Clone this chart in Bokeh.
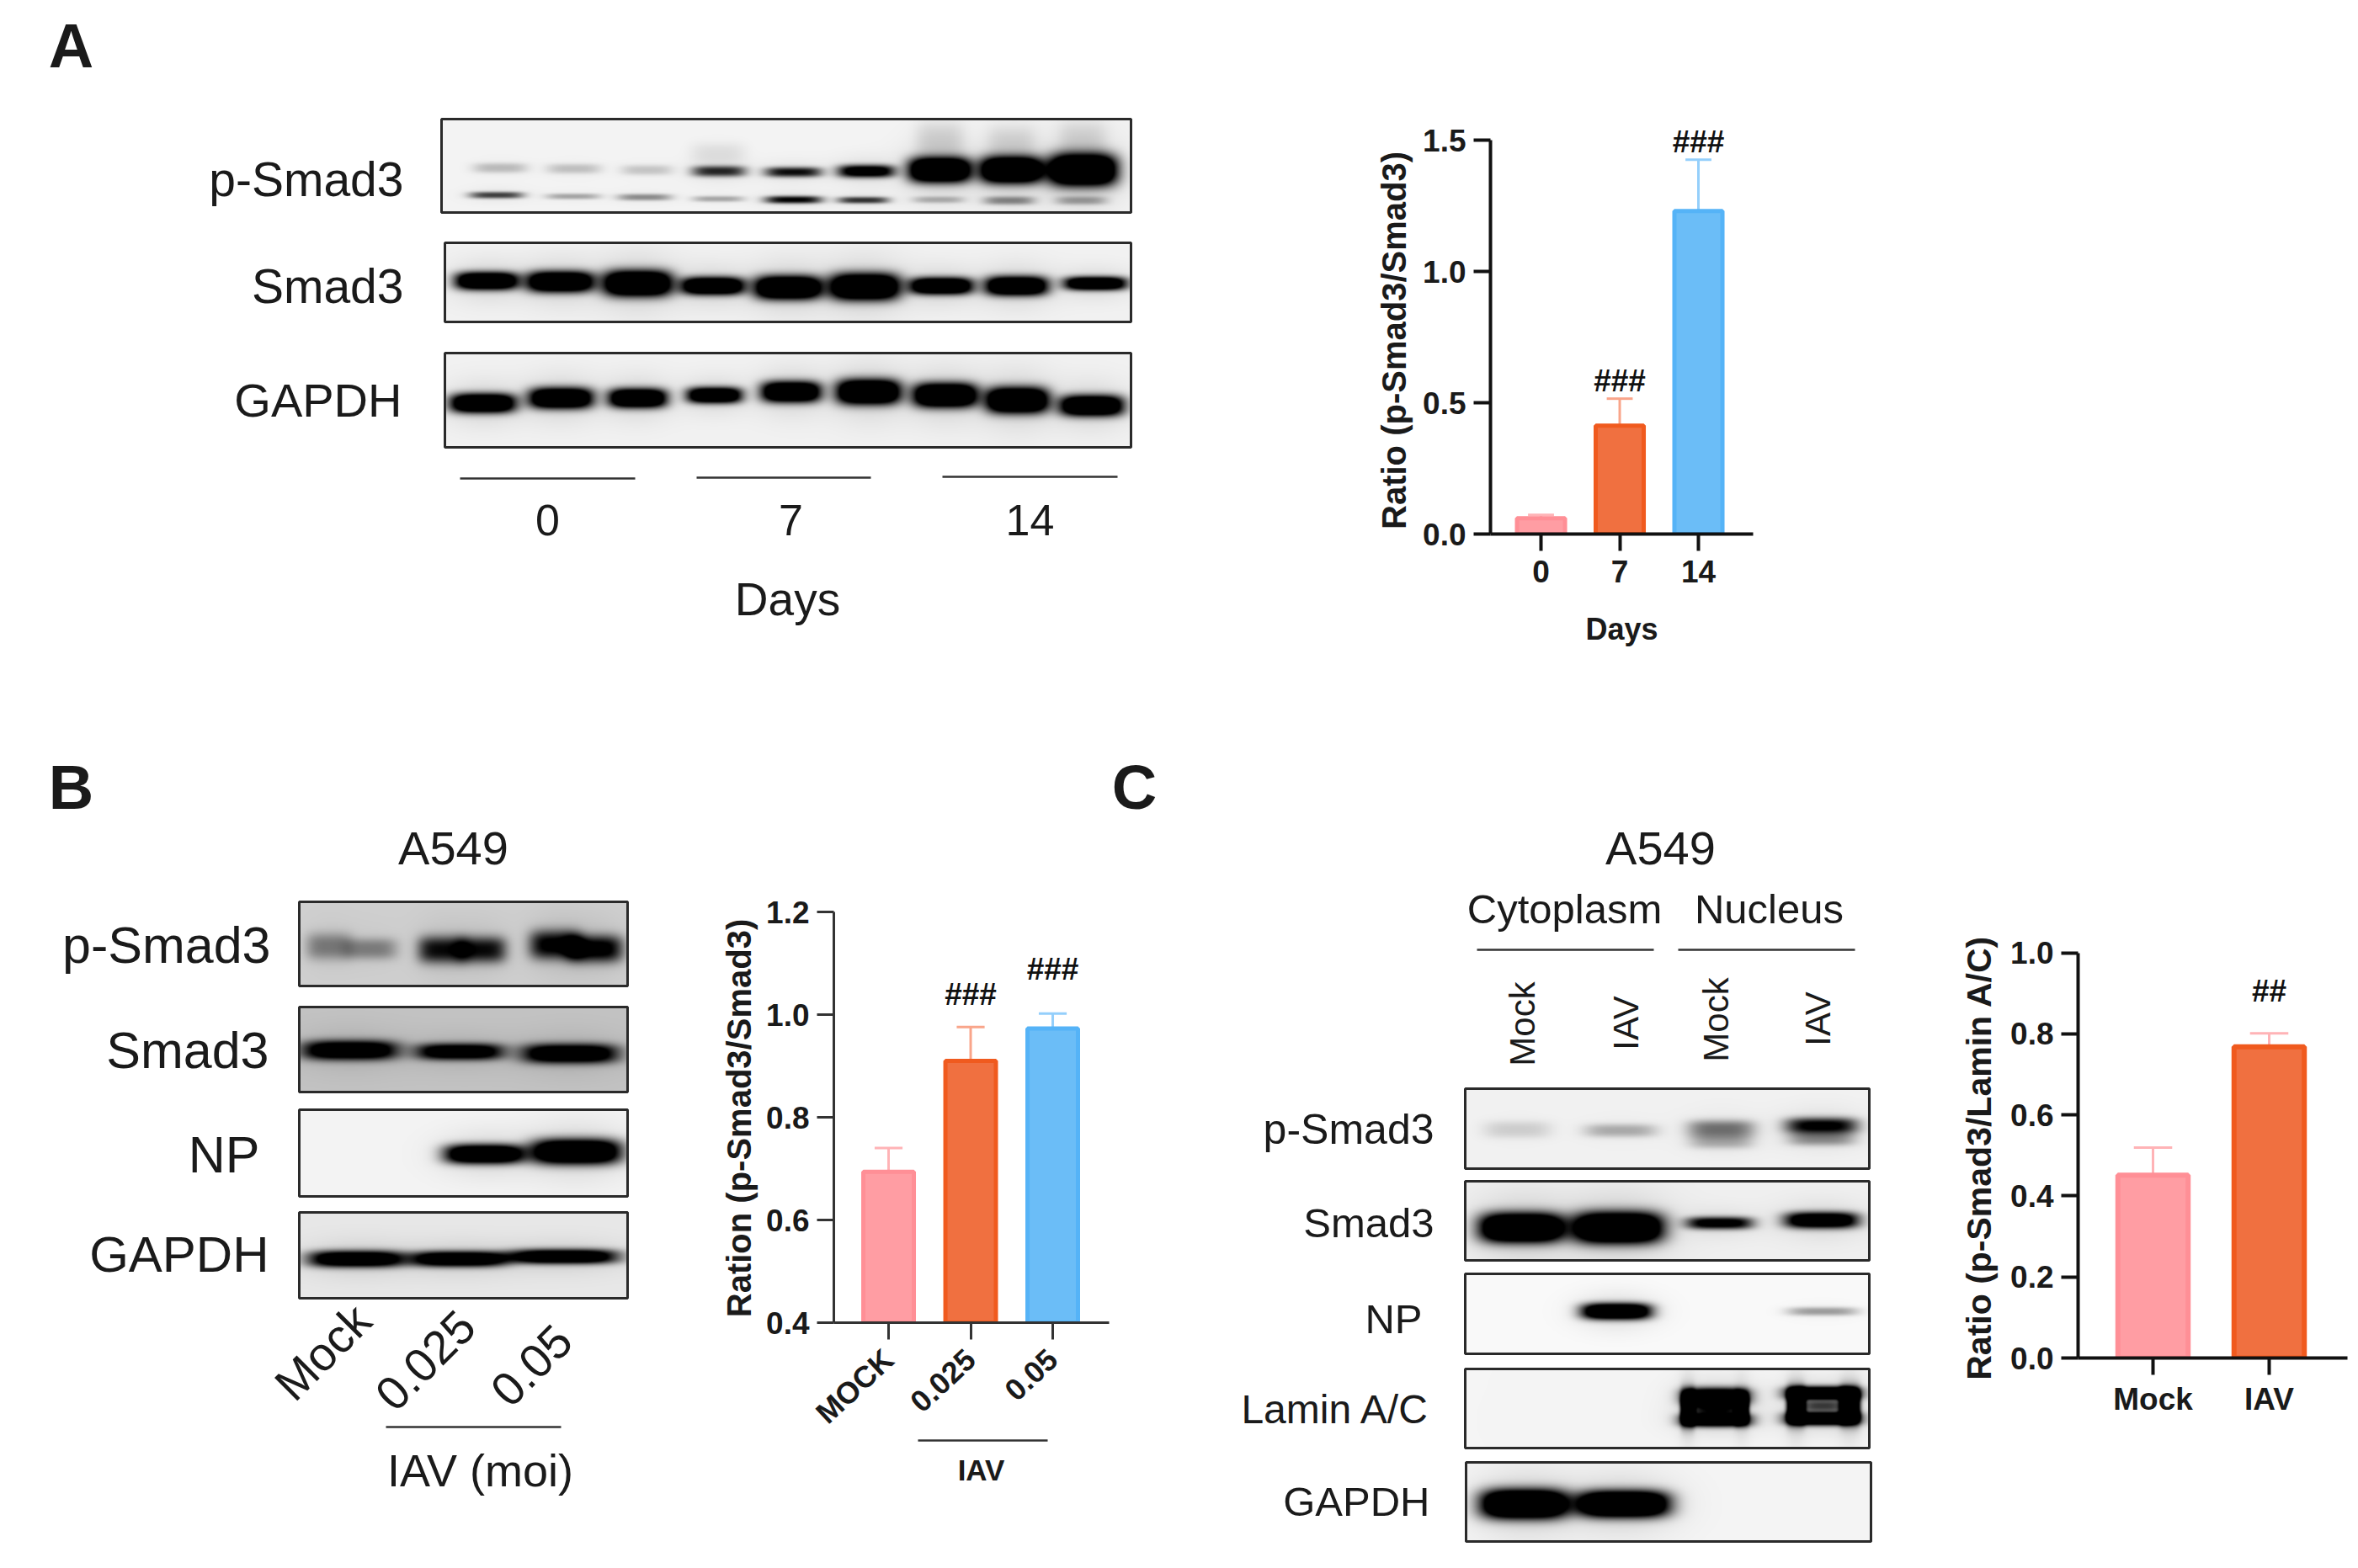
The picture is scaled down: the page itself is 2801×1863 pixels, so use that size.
import math
import numpy as np
from bokeh.core.properties import value
from bokeh.embed import file_html
from bokeh.layouts import column, row
from bokeh.models import ColumnDataSource, FixedTicker, Range1d
from bokeh.plotting import figure
from bokeh.resources import INLINE

# ---- chart data -----
A_days = ["0", "7", "14"]
A_mean = [0.06, 0.413, 1.231]
A_top = [0.073, 0.516, 1.427]
A_hash_labels = ["###", "###"]
A_hash_x = [1, 2]
A_hash_y = [0.584, 1.495]
A_ticks = [0.0, 0.5, 1.0, 1.5]

B_groups = ["MOCK", "0.025", "0.05"]
B_mean = [0.694, 0.91, 0.973]
B_top = [0.74, 0.976, 1.002]
B_hash_labels = ["###", "###"]
B_hash_x = [1, 2]
B_hash_y = [1.039, 1.088]
B_ticks = [0.4, 0.6, 0.8, 1.0, 1.2]

C_groups = ["Mock", "IAV"]
C_mean = [0.451, 0.768]
C_top = [0.519, 0.801]
C_hash_labels = ["##"]
C_hash_x = [1]
C_hash_y = [0.906]
C_ticks = [0.0, 0.2, 0.4, 0.6, 0.8, 1.0]

FILL = ["#FF9DA3", "#F07040", "#6BBDF7"]
EDGE = ["#FF8F96", "#F05A1E", "#55B3F7"]
ERR = ["#FFB3B6", "#F9A58A", "#94CFFB"]
FONT = "Liberation Sans"

# ---- western blot bands: (x, y, half width, half height, darkness), in the crop units of each panel group ----
Z_A = (0, 0, 1.12, 2.01)
Z_B = (0, 880, 2.01, 1.742)
Z_C = (1300, 960, 1.633, 1.782)

A_psmad = [(665, 400, 36, 12, .22), (763, 402, 36, 12, .2), (860, 405, 34, 12, .18),
           (660, 465, 36, 8, .7), (762, 468, 36, 7, .3), (857, 470, 36, 8, .4),
           (956, 408, 36, 13, .8), (1055, 410, 38, 12, .9), (1152, 408, 38, 15, 1.2),
           (955, 474, 34, 7, .3), (1055, 476, 38, 9, .95), (1148, 477, 34, 8, .75),
           (1250, 405, 42, 30, 1.7), (1345, 405, 42, 32, 1.7), (1440, 405, 46, 38, 1.8),
           (1248, 476, 34, 8, .25), (1342, 478, 34, 10, .4), (1438, 478, 34, 10, .3),
           (1250, 335, 32, 45, .12), (1345, 340, 32, 40, .1), (1440, 335, 32, 45, .1),
           (955, 365, 36, 25, .08)]
A_smad = [(647, 670, 42, 21, 1.6), (745, 672, 45, 25, 1.6), (848, 676, 46, 31, 1.7),
          (948, 682, 42, 21, 1.6), (1048, 686, 45, 28, 1.7), (1150, 684, 47, 32, 1.7),
          (1252, 682, 42, 20, 1.6), (1352, 682, 42, 23, 1.6), (1457, 676, 42, 16, 1.5)]
A_gapdh = [(642, 962, 44, 23, 1.6), (746, 950, 43, 25, 1.6), (848, 950, 39, 23, 1.6),
           (950, 943, 37, 19, 1.5), (1052, 935, 40, 25, 1.6), (1155, 935, 43, 30, 1.7),
           (1257, 943, 43, 29, 1.7), (1353, 955, 42, 31, 1.7), (1452, 968, 43, 25, 1.6)]

B_psmad = [(785, 425, 55, 28, .4), (885, 430, 62, 22, .38), (1055, 432, 58, 28, .9),
           (1150, 432, 58, 27, .9), (1325, 422, 62, 30, 1.0), (1420, 430, 66, 28, 1.05)]
B_smad = [(835, 640, 115, 20, 1.4), (1097, 643, 105, 17, 1.3), (1360, 647, 115, 20, 1.4)]
B_np = [(1155, 855, 95, 20, 1.5), (1375, 850, 108, 26, 1.6)]
B_gapdh = [(850, 1072, 115, 17, 1.4), (1095, 1072, 115, 16, 1.4), (1345, 1067, 130, 15, 1.4)]

C_psmad = [(820, 680, 65, 18, .14), (1020, 682, 70, 14, .28), (1215, 678, 65, 18, .5),
           (1215, 705, 62, 15, .28), (1410, 672, 70, 17, 1.0), (1410, 700, 65, 14, .38)]
C_smad = [(828, 888, 82, 31, 1.8), (1015, 888, 88, 33, 1.8), (1212, 878, 65, 13, 1.1), (1410, 872, 72, 17, 1.4)]
C_np = [(1012, 1065, 68, 17, 1.6), (1412, 1065, 68, 9, .35)]
C_lamin = [(1205, 1245, 65, 18, 1.5), (1205, 1295, 68, 14, 1.5), (1150, 1270, 14, 36, 1.4),
           (1255, 1270, 14, 30, 1.4), (1205, 1270, 50, 12, .75), (1412, 1238, 72, 14, 1.6),
           (1412, 1292, 72, 14, 1.6), (1360, 1265, 18, 36, 1.5), (1465, 1265, 20, 36, 1.5),
           (1412, 1265, 40, 10, .6)]
C_gapdh = [(833, 1473, 85, 31, 1.8), (1025, 1473, 90, 28, 1.8)]


def blot_figure(x0, y0, x1, y1):
    p = figure(width=x1 - x0, height=y1 - y0, x_range=Range1d(x0, x1), y_range=Range1d(-y1, -y0),
               output_backend="svg", toolbar_location=None, min_border=0, frame_align=False,
               x_axis_type=None, y_axis_type=None, outline_line_color=None)
    p.grid.visible = False
    return p


def blot(p, box, bg, bands, zoom):
    x0, y0, x1, y1 = box
    ox, oy, fx, fy = zoom
    xs = np.arange(x0, x1) + 0.5
    ys = np.arange(y0, y1) + 0.5
    X, Y = np.meshgrid(xs, ys)
    dark = np.zeros_like(X, dtype=float)
    for bx, by, w, h, s in bands:
        cx, cy, hw, hh = ox + bx / fx, oy + by / fy, w / fx, h / fy
        dark += s * np.exp(-(np.abs((X - cx) / hw) ** 4 + np.abs((Y - cy) / hh) ** 2.6))
        dark += s * 0.07 * np.exp(-(np.abs((X - cx) / (hw * 1.15)) ** 2 + np.abs((Y - cy) / (hh * 2.4)) ** 2))
    gray = (bg * (1 - np.clip(dark, 0, 1))).astype(np.uint32)
    rgba = (255 << 24) | (gray << 16) | (gray << 8) | gray
    p.image_rgba(image=[np.flipud(rgba)], x=x0, y=-y1, dw=x1 - x0, dh=y1 - y0)
    p.quad(left=x0, right=x1, top=-y0, bottom=-y1, fill_color=None, line_color="#2a2a2a", line_width=3)


def txt(p, x, y, s, size, align="center", angle=0.0, style="normal"):
    p.text(x=[x], y=[-y], text=[s], text_font=value(FONT), text_font_size=f"{size}px",
           text_align=align, text_baseline="middle", angle=angle, text_color="#1a1a1a",
           text_font_style=style)


def hline(p, x0, x1, y):
    p.line(x=[x0, x1], y=[-y, -y], line_color="#333333", line_width=2.5)


def bar_figure(fig_box, frame_box, xr, y0, y_per_px, labels, ticks, means, tops, hx, hy, hl,
               bar_w, cap_w, line_w, axis_w, axis_color, colors):
    fx0, fy0, fx1, fy1 = fig_box
    lx, ty, rx, by = frame_box
    y_end = y0 + (by - ty) * y_per_px
    p = figure(width=fx1 - fx0, height=fy1 - fy0, x_range=Range1d(*xr), y_range=Range1d(y0, y_end),
               output_backend="svg", toolbar_location=None, outline_line_color=None, frame_align=False,
               min_border_left=lx - fx0, min_border_right=fx1 - rx,
               min_border_top=ty - fy0, min_border_bottom=fy1 - by,
               frame_width=rx - lx, frame_height=by - ty)
    p.grid.visible = False
    xs = list(range(len(labels)))
    src = ColumnDataSource(dict(x=xs, bottom=[y0] * len(xs), top=means, err=tops, fill=colors[0],
                                edge=colors[1], ec=colors[2],
                                cl=[v - cap_w / 2 for v in xs], cr=[v + cap_w / 2 for v in xs]))
    p.segment(x0="x", y0="top", x1="x", y1="err", line_color="ec", line_width=3, source=src)
    p.segment(x0="cl", y0="err", x1="cr", y1="err", line_color="ec", line_width=3, source=src)
    p.vbar(x="x", bottom="bottom", top="top", width=bar_w, fill_color="fill", line_color="edge",
           line_width=line_w, source=src)
    p.text(x=hx, y=hy, text=hl, text_font=value(FONT), text_font_size="37px", text_align="center",
           text_baseline="middle", text_color="#111111", text_font_style="bold")
    for ax in (p.xaxis[0], p.yaxis[0]):
        ax.axis_line_width = axis_w
        ax.axis_line_color = axis_color
        ax.major_tick_line_width = axis_w
        ax.major_tick_line_color = axis_color
        ax.major_tick_out = 20
        ax.major_tick_in = 0
        ax.minor_tick_line_color = None
        ax.major_label_text_font = FONT
        ax.major_label_text_font_style = "bold"
        ax.major_label_text_font_size = "37px"
        ax.major_label_text_color = "#1a1a1a"
        ax.axis_label_text_font = FONT
        ax.axis_label_text_font_style = "bold"
        ax.axis_label_text_color = "#1a1a1a"
    p.xaxis[0].ticker = FixedTicker(ticks=xs)
    p.xaxis[0].major_label_overrides = {i: s for i, s in enumerate(labels)}
    p.xaxis[0].bounds = (xr[0], xr[1])
    p.yaxis[0].ticker = FixedTicker(ticks=ticks)
    p.yaxis[0].major_label_overrides = {t: f"{t:.1f}" for t in ticks}
    p.yaxis[0].bounds = (ticks[0], ticks[-1])
    p.yaxis[0].major_label_standoff = 9
    return p


# ---- panel A ----
fA = blot_figure(0, 0, 1680, 830)
blot(fA, (524, 141, 1343, 252), 244, A_psmad, Z_A)
blot(fA, (528, 288, 1343, 382), 242, A_smad, Z_A)
blot(fA, (528, 419, 1343, 531), 242, A_gapdh, Z_A)
txt(fA, 84, 54, "A", 74, style="bold")
txt(fA, 479, 212, "p-Smad3", 57, "right")
txt(fA, 479, 339, "Smad3", 57, "right")
txt(fA, 477, 475, "GAPDH", 56, "right")
hline(fA, 546, 754, 568)
hline(fA, 827, 1034, 567)
hline(fA, 1119, 1327, 566)
txt(fA, 650, 617, "0", 52)
txt(fA, 939, 617, "7", 52)
txt(fA, 1223, 617, "14", 52)
txt(fA, 935, 711, "Days", 55)
txt(fA, 1655, 404, "Ratio (p-Smad3/Smad3)", 40, angle=math.pi / 2, style="bold")

barA = bar_figure((1680, 0, 2795, 830), (1770, 100, 2082, 634), (-0.642, 2.695), 0.0, 1 / 311.7,
                  A_days, A_ticks, A_mean, A_top, A_hash_x, A_hash_y, A_hash_labels,
                  0.61, 0.33, 5, 4, "#111111", (FILL, EDGE, ERR))
barA.xaxis[0].major_label_standoff = 11
barA.xaxis[0].axis_label = "Days"
barA.xaxis[0].axis_label_text_font_size = "36px"
barA.xaxis[0].axis_label_standoff = 32

# ---- panel B ----
fB = blot_figure(0, 830, 905, 1855)
blot(fB, (355, 1071, 745, 1171), 208, B_psmad, Z_B)
blot(fB, (355, 1196, 745, 1297), 195, B_smad, Z_B)
blot(fB, (355, 1318, 745, 1421), 244, B_np, Z_B)
blot(fB, (355, 1440, 745, 1542), 232, B_gapdh, Z_B)
txt(fB, 84, 935, "B", 74, style="bold")
txt(fB, 538, 1007, "A549", 56)
txt(fB, 321, 1122, "p-Smad3", 61, "right")
txt(fB, 319, 1247, "Smad3", 61, "right")
txt(fB, 308, 1371, "NP", 61, "right")
txt(fB, 319, 1490, "GAPDH", 60, "right")
for lx_, ly_, s_ in ((383, 1606, "Mock"), (505, 1616, "0.025"), (631, 1622, "0.05")):
    txt(fB, lx_, ly_, s_, 56, angle=math.pi / 4)
hline(fB, 458, 666, 1695)
txt(fB, 570, 1746, "IAV (moi)", 54)
txt(fB, 877, 1328, "Ration (p-Smad3/Smad3)", 40, angle=math.pi / 2, style="bold")

barB = bar_figure((905, 830, 1320, 1700), (990, 1060, 1317, 1571), (-0.667, 2.687), 0.4, 0.8 / 488,
                  B_groups, B_ticks, B_mean, B_top, B_hash_x, B_hash_y, B_hash_labels,
                  0.615, 0.34, 5, 3, "#333333", (FILL, EDGE, ERR))
barB.xaxis[0].major_label_orientation = 0.75
barB.xaxis[0].major_label_text_font_size = "36px"
barB.xaxis[0].major_label_standoff = 18
# the rotated tick labels make barB 18px taller than its nominal height: pull this strip up over its empty end
subB = blot_figure(905, 1706, 1320, 1855)
subB.background_fill_color = None
subB.border_fill_color = None
subB.margin = (-12, 0, 0, 0)
hline(subB, 1090, 1244, 1712)
txt(subB, 1165, 1747, "IAV", 35, style="bold")

# ---- panel C ----
fC = blot_figure(1320, 830, 2380, 1855)
blot(fC, (1740, 1293, 2220, 1388), 242, C_psmad, Z_C)
blot(fC, (1740, 1403, 2220, 1497), 240, C_smad, Z_C)
blot(fC, (1740, 1513, 2220, 1608), 250, C_np, Z_C)
blot(fC, (1740, 1626, 2220, 1720), 245, C_lamin, Z_C)
blot(fC, (1741, 1737, 2222, 1831), 245, C_gapdh, Z_C)
txt(fC, 1347, 935, "C", 74, style="bold")
txt(fC, 1972, 1007, "A549", 56)
txt(fC, 1858, 1079, "Cytoplasm", 49)
txt(fC, 2101, 1079, "Nucleus", 49)
hline(fC, 1754, 1964, 1128)
hline(fC, 1993, 2203, 1128)
for lx_, ly_, s_ in ((1808, 1216, "Mock"), (1931, 1215, "IAV"), (2038, 1211, "Mock"), (2159, 1210, "IAV")):
    txt(fC, lx_, ly_, s_, 42, angle=math.pi / 2)
txt(fC, 1703, 1341, "p-Smad3", 50, "right")
txt(fC, 1703, 1452, "Smad3", 49, "right")
txt(fC, 1689, 1566, "NP", 49, "right")
txt(fC, 1698, 1674, "Lamin A/C", 48, "right")
txt(fC, 1698, 1783, "GAPDH", 49, "right")
txt(fC, 2350, 1375, "Ratio (p-Smad3/Lamin A/C)", 41, angle=math.pi / 2, style="bold")

barC = bar_figure((2380, 830, 2795, 1855), (2468, 1110, 2788, 1613), (-0.645, 1.674), 0.0, 1 / 481.5,
                  C_groups, C_ticks, C_mean, C_top, C_hash_x, C_hash_y, C_hash_labels,
                  0.605, 0.33, 6, 4, "#111111", (FILL[:2], EDGE[:2], ERR[0:1] * 2))
barC.xaxis[0].major_label_standoff = 8

layout = column(row(fA, barA), row(fB, column(barB, subB), fC, barC))
open("out.html", "w").write(file_html(layout, INLINE))
